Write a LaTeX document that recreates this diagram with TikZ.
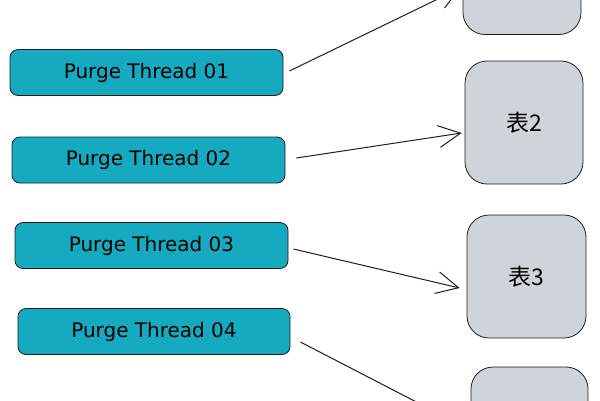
\documentclass[tikz,border=0pt]{standalone}
\usepackage{fontspec}
\setmainfont{DejaVu Sans}
\newfontfamily\cjkfont{Noto Sans CJK SC}
\definecolor{threadcyan}{RGB}{21, 170, 191}
\definecolor{tablegray}{RGB}{206, 212, 218}
\definecolor{inkdark}{RGB}{30, 30, 30}
\usetikzlibrary{arrows.meta, positioning, calc}

\begin{document}
\begin{tikzpicture}[x=1pt, y=-1pt,
  thread/.style={draw=inkdark, fill=threadcyan, rounded corners=8pt, line width=0.8pt,
    minimum width=273pt, minimum height=46pt, inner sep=0pt, font=\fontsize{20}{22}\selectfont},
  tablebox/.style={draw=inkdark, fill=tablegray, rounded corners=22pt, line width=0.8pt,
    minimum width=118pt, minimum height=123pt, inner sep=0pt, font=\cjkfont\fontsize{23}{24}\selectfont},
  link/.style={draw=inkdark, line width=1pt, -{Straight Barb[length=22pt,width=22pt]}}]
  \useasboundingbox (0,0) rectangle (600,400);
  \clip (0,0) rectangle (600,400);

  % purge threads
  \node[thread] (t1) at (146.5, 72.5) {Purge Thread 01};
  \node[thread] (t2) at (148.5, 160) {Purge Thread 02};
  \node[thread] (t3) at (151.5, 245.5) {Purge Thread 03};
  \node[thread, minimum width=272pt] (t4) at (154, 331.5) {Purge Thread 04};

  % tables (first and last only partly in view)
  \node[tablebox] (tb1) at (522, -27) {};
  \node[tablebox] (tb2) at (524, 122.5) {表2};
  \node[tablebox, minimum width=119pt] (tb3) at (526.5, 276.5) {表3};
  \node[tablebox, minimum width=117pt] (tb4) at (529.5, 428.5) {};

  % arrows
  \draw[link] ($(t1.east)+(6,-1.5)$) -- ($(tb1.west)+(-2,15)$);
  \draw[link] ($(t2.east)+(11,-2)$) -- ($(tb2.west)+(-3,10.5)$);
  \draw[link] ($(t3.east)+(5,3.5)$) -- ($(tb3.west)+(-7,11.5)$);
  \draw[link] ($(t4.east)+(10,10.5)$) -- ($(tb4.west)+(-3,0)$);
\end{tikzpicture}
\end{document}
